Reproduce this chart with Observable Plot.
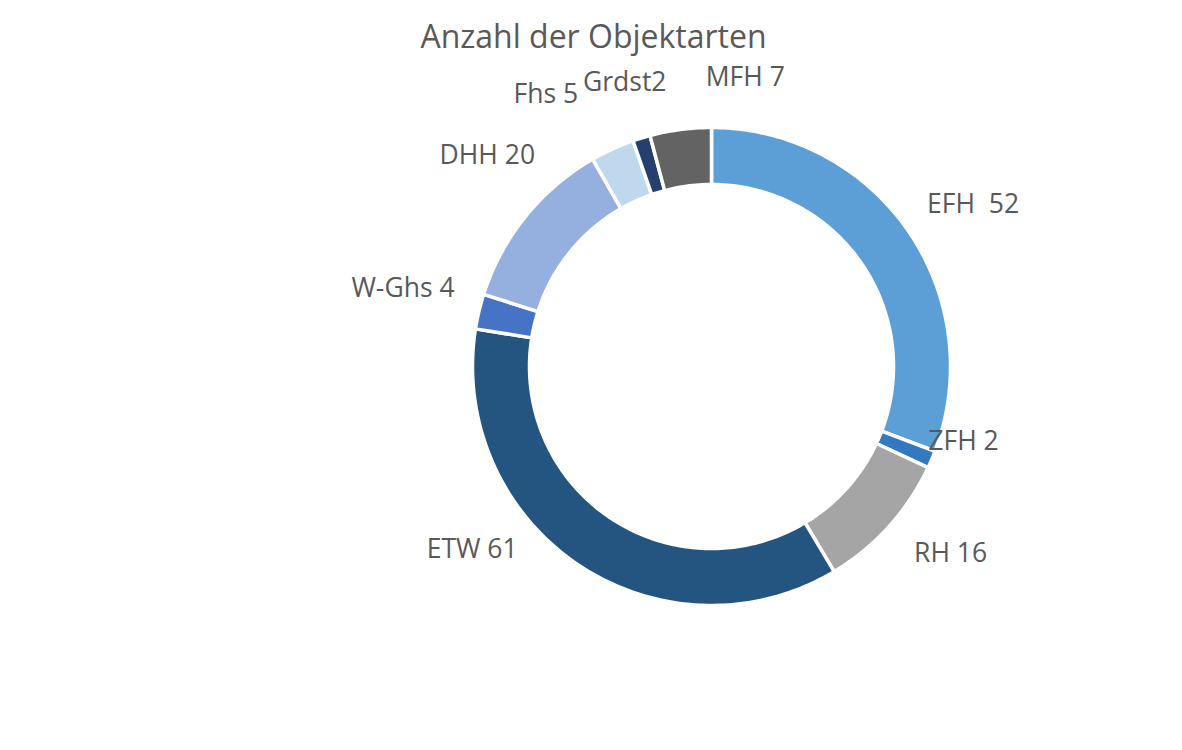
<!DOCTYPE html>
<html>
<head>
<meta charset="utf-8">
<script src="https://cdn.jsdelivr.net/npm/d3@7"></script>
<script src="https://cdn.jsdelivr.net/npm/@observablehq/plot@0.6"></script>
<style>
  html, body { margin: 0; padding: 0; background: #fff; }
  #chart svg { display: block; }
</style>
</head>
<body>
<div id="chart"></div>
<script>
// ---- data ----
const title = "Anzahl der Objektarten";
const categories = ["EFH", "ZFH", "RH", "ETW", "W-Ghs", "DHH", "Fhs", "Grdst", "MFH"];
const values = [52, 2, 16, 61, 4, 20, 5, 2, 7];
const labelTexts = ["EFH  52", "ZFH 2", "RH 16", "ETW 61", "W-Ghs 4", "DHH 20", "Fhs 5", "Grdst2", "MFH 7"];
const colors = ["#5b9fd6", "#3479bf", "#a5a5a5", "#245581", "#4773c6", "#95b0de", "#c0d8ee", "#25406f", "#636363"];

// ---- layout ----
const W = 1182, H = 750;
const cx = 711, cy = 366;          // donut centre in pixels
const rOuter = 239, rInner = 182;
const rLabel = rOuter + 40;
const textColor = "#595959";
const fontFamily = "'Open Sans', sans-serif";
// Excel "best fit" label displacement (px, x right / y up) relative to the radial default
const labelNudge = {
  "EFH": [32, 3], "ZFH": [-5, 34], "RH": [32, 0], "ETW": [-83, 48],
  "W-Ghs": [-37, 14], "DHH": [-7, 36], "Fhs": [-50, 18], "Grdst": [-5, 17], "MFH": [70, 12]
};

// ---- derived geometry from the values ----
const pie = d3.pie().sort(null).value(d => d)(values);
const toRad = Math.PI / 180;
const arcPoints = [];
pie.forEach((p, i) => {
  const a0 = p.startAngle, a1 = p.endAngle;
  const n = Math.max(2, Math.ceil((a1 - a0) / toRad) + 1);
  const outer = d3.range(n).map(k => a0 + (a1 - a0) * k / (n - 1));
  const inner = outer.slice().reverse();
  outer.forEach(a => arcPoints.push({key: categories[i], x: rOuter * Math.sin(a), y: rOuter * Math.cos(a)}));
  inner.forEach(a => arcPoints.push({key: categories[i], x: rInner * Math.sin(a), y: rInner * Math.cos(a)}));
});

const labels = pie.map((p, i) => {
  const a = (p.startAngle + p.endAngle) / 2;
  const nd = labelNudge[categories[i]] || [0, 0];
  return {
    text: labelTexts[i],
    x: rLabel * Math.sin(a) + nd[0],
    y: rLabel * Math.cos(a) + nd[1]
  };
});

const chart = Plot.plot({
  width: W,
  height: H,
  margin: 0,
  style: {background: "#fff", fontFamily},
  x: {domain: [-cx, W - cx], axis: null},
  y: {domain: [cy - H, cy], axis: null},
  color: {domain: categories, range: colors},
  marks: [
    Plot.line(arcPoints, {
      x: "x", y: "y", z: "key", fill: "key",
      stroke: "white", strokeWidth: 3.5, curve: "linear-closed"
    }),
    Plot.text(labels, {
      x: "x", y: "y", text: "text",
      fill: textColor, fontSize: 26.5, textAnchor: "middle", lineAnchor: "middle"
    }),
    Plot.text([title], {
      frameAnchor: "top-left", dx: 593, dy: 37, text: d => d,
      fill: textColor, fontSize: 32, textAnchor: "middle", lineAnchor: "middle"
    })
  ]
});
document.getElementById("chart").appendChild(chart);
</script>
</body>
</html>
